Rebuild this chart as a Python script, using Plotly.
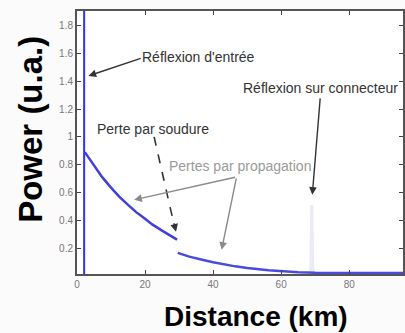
import plotly.graph_objects as go

# ---- data ----
spike_distance = [2.1, 2.1]
spike_power = [0.0, 1.95]

fiber1_distance = [2.3, 5.0, 7.4, 10.0, 12.4, 15.0, 17.3, 20.0, 22.1, 25.0, 27.0, 29.4]
fiber1_power = [0.89, 0.79, 0.71, 0.635, 0.57, 0.51, 0.46, 0.41, 0.37, 0.325, 0.295, 0.26]

fiber2_distance = [29.6, 33.0, 36.8, 40.0, 46.5, 50.0, 56.3, 60.0, 65.0, 70.0, 80.0, 90.0, 96.0]
fiber2_power = [0.165, 0.138, 0.115, 0.097, 0.068, 0.056, 0.04, 0.032, 0.026, 0.022, 0.02, 0.02, 0.02]

connector_distance = [68.7, 69.0, 69.3]
connector_power = [0.02, 0.51, 0.02]

x_ticks = [0, 20, 40, 60, 80]
y_ticks = [0.2, 0.4, 0.6, 0.8, 1.0, 1.2, 1.4, 1.6, 1.8]
y_tick_labels = ["0.2", "0.4", "0.6", "0.8", "1", "1.2", "1.4", "1.6", "1.8"]

FONT = "Liberation Sans"

fig = go.Figure()
fig.add_trace(go.Scatter(x=connector_distance, y=connector_power, mode="lines",
                         line=dict(color="#ebebf8", width=3), hoverinfo="skip"))
fig.add_trace(go.Scatter(x=spike_distance, y=spike_power, mode="lines",
                         line=dict(color="#3232f0", width=2)))
fig.add_trace(go.Scatter(x=fiber1_distance, y=fiber1_power, mode="lines",
                         line=dict(color="#4040d8", width=2.5)))
fig.add_trace(go.Scatter(x=fiber2_distance, y=fiber2_power, mode="lines",
                         line=dict(color="#4a4ae0", width=2.5)))

ann = []
def text_ann(t, x, y, size, color):
    ann.append(dict(text=t, x=x, y=y, xref="x", yref="y", showarrow=False,
                    xanchor="center", yanchor="middle",
                    font=dict(family=FONT, size=size, color=color)))

def arrow(x0, y0, x1, y1, color):
    ann.append(dict(text="", x=x1, y=y1, ax=x0, ay=y0, xref="x", yref="y",
                    axref="x", ayref="y", showarrow=True, arrowhead=2,
                    arrowsize=1.1, arrowwidth=1.4, arrowcolor=color))

text_ann("Réflexion d'entrée", 35.8, 1.576, 14, "#333333")
text_ann("Réflexion sur connecteur", 71.6, 1.353, 14, "#333333")
text_ann("Perte par soudure", 22.2, 1.058, 14, "#333333")
text_ann("Pertes par propagation", 47.9, 0.791, 14, "#9a9a9a")

arrow(19.15, 1.568, 3.36, 1.439, "#333333")
arrow(71.5, 1.288, 69.15, 0.583, "#333333")
arrow(46.9, 0.712, 16.8, 0.547, "#8a8a8a")
arrow(46.9, 0.712, 42.5, 0.187, "#8a8a8a")
# dashed "soudure" arrow: dashed shaft + head
ann.append(dict(text="", x=29.1, y=0.317, ax=-2.5, ay=-10, xref="x", yref="y",
                showarrow=True, arrowhead=2, arrowsize=1.1, arrowwidth=1.4,
                arrowcolor="#333333"))

# axis titles
ann.append(dict(text="<b>Power (u.a.)</b>", x=-0.145, y=0.551, xref="paper", yref="paper",
                xanchor="center", yanchor="middle",
                showarrow=False, textangle=-90, font=dict(family=FONT, size=33, color="black")))
ann.append(dict(text="<b>Distance (km)</b>", x=0.55, y=-0.16, xref="paper", yref="paper",
                xanchor="center", yanchor="middle",
                showarrow=False, font=dict(family=FONT, size=28, color="black")))

fig.update_layout(
    width=405, height=333,
    margin=dict(l=77, r=0, t=11, b=59),
    paper_bgcolor="#fbfbfb", plot_bgcolor="#ffffff",
    showlegend=False,
    annotations=ann,
    shapes=[dict(type="line", x0=22.66, y0=1.0, x1=28.6, y1=0.36, xref="x", yref="y",
                 line=dict(color="#333333", width=1.6, dash="dash"))],
)
fig.update_xaxes(range=[0, 95.8], tickvals=x_ticks, ticks="inside", ticklen=4,
                 showline=True, linecolor="#555555", linewidth=2, mirror="ticks",
                 showgrid=False, zeroline=False,
                 tickfont=dict(family=FONT, size=10, color="#777777"))
fig.update_yaxes(range=[0.013, 1.906], tickvals=y_ticks, ticktext=y_tick_labels,
                 ticks="inside", ticklen=4, showline=True, linecolor="#555555",
                 linewidth=2, mirror="ticks", showgrid=False, zeroline=False,
                 tickfont=dict(family=FONT, size=10, color="#777777"))

fig.write_html("out.html")
